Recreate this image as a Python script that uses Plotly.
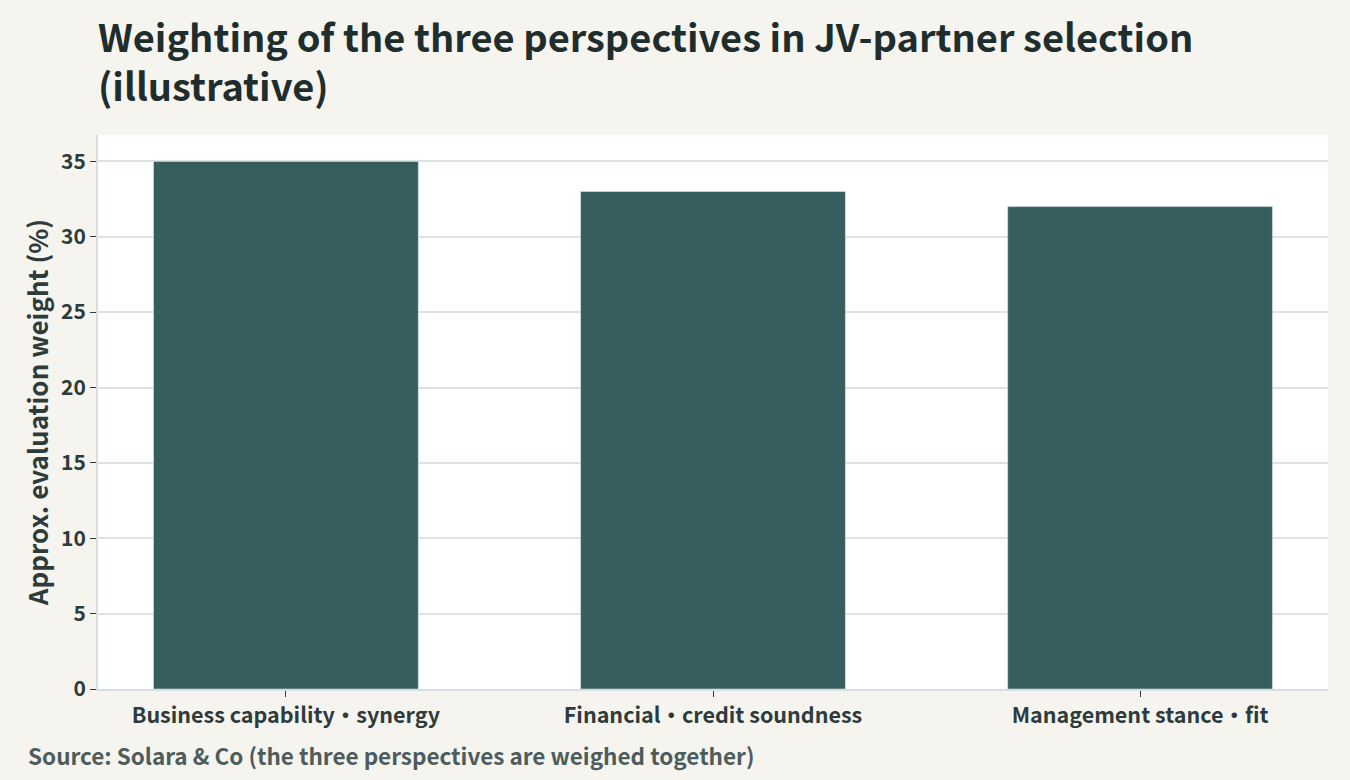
import plotly.graph_objects as go

categories = ["Business capability・synergy", "Financial・credit soundness", "Management stance・fit"]
weights = [35, 33, 32]
y_ticks = [0, 5, 10, 15, 20, 25, 30, 35]

FONT = "Noto Sans CJK JP"
L, R, T, B = 98, 22, 135, 91
PW, PH = 1350 - L - R, 780 - T - B

def px_x(x):
    return (x - L) / PW

def px_y(y):
    return (780 - B - y) / PH

fig = go.Figure(go.Bar(x=categories, y=weights, marker_color="#375e5e", width=0.62))

fig.update_layout(
    width=1350, height=780,
    paper_bgcolor="#f5f4ef", plot_bgcolor="#ffffff",
    margin=dict(l=L, r=R, t=T, b=B),
    font=dict(family=FONT, color="#2d3b3b"),
    showlegend=False,
    annotations=[
        dict(text="Weighting of the three perspectives in JV-partner selection<br>(illustrative)",
             xref="paper", yref="paper", x=px_x(96), y=px_y(6), xanchor="left", yanchor="top",
             align="left", showarrow=False,
             font=dict(size=38, color="#1f2d2d", family=FONT, weight="bold")),
        dict(text="Source: Solara & Co (the three perspectives are weighed together)",
             xref="paper", yref="paper", x=px_x(26), y=px_y(755), xanchor="left", yanchor="middle",
             showarrow=False, font=dict(size=22.5, color="#4d5c5c", family=FONT, weight="bold")),
    ],
)
fig.update_xaxes(range=[-0.44, 2.44], showline=True, linecolor="#d6dfdf", linewidth=2,
                 ticks="outside", ticklen=6, tickcolor="#2d3b3b",
                 tickfont=dict(size=21.5, color="#2d3b3b", weight="bold"))
fig.update_yaxes(range=[0, 36.75], tickvals=y_ticks, showline=True, linecolor="#d6dfdf", linewidth=2,
                 gridcolor="#dde3e3", gridwidth=1.5, zeroline=False,
                 ticks="outside", ticklen=6, tickcolor="#2d3b3b",
                 tickfont=dict(size=21, color="#2d3b3b", weight="bold"),
                 title=dict(text="Approx. evaluation weight (%)",
                            font=dict(size=26, color="#2d3b3b", weight="bold"), standoff=5))

fig.write_html("out.html", config={"displayModeBar": False},
               post_script="document.body.style.margin='0';document.body.style.overflow='hidden';")
